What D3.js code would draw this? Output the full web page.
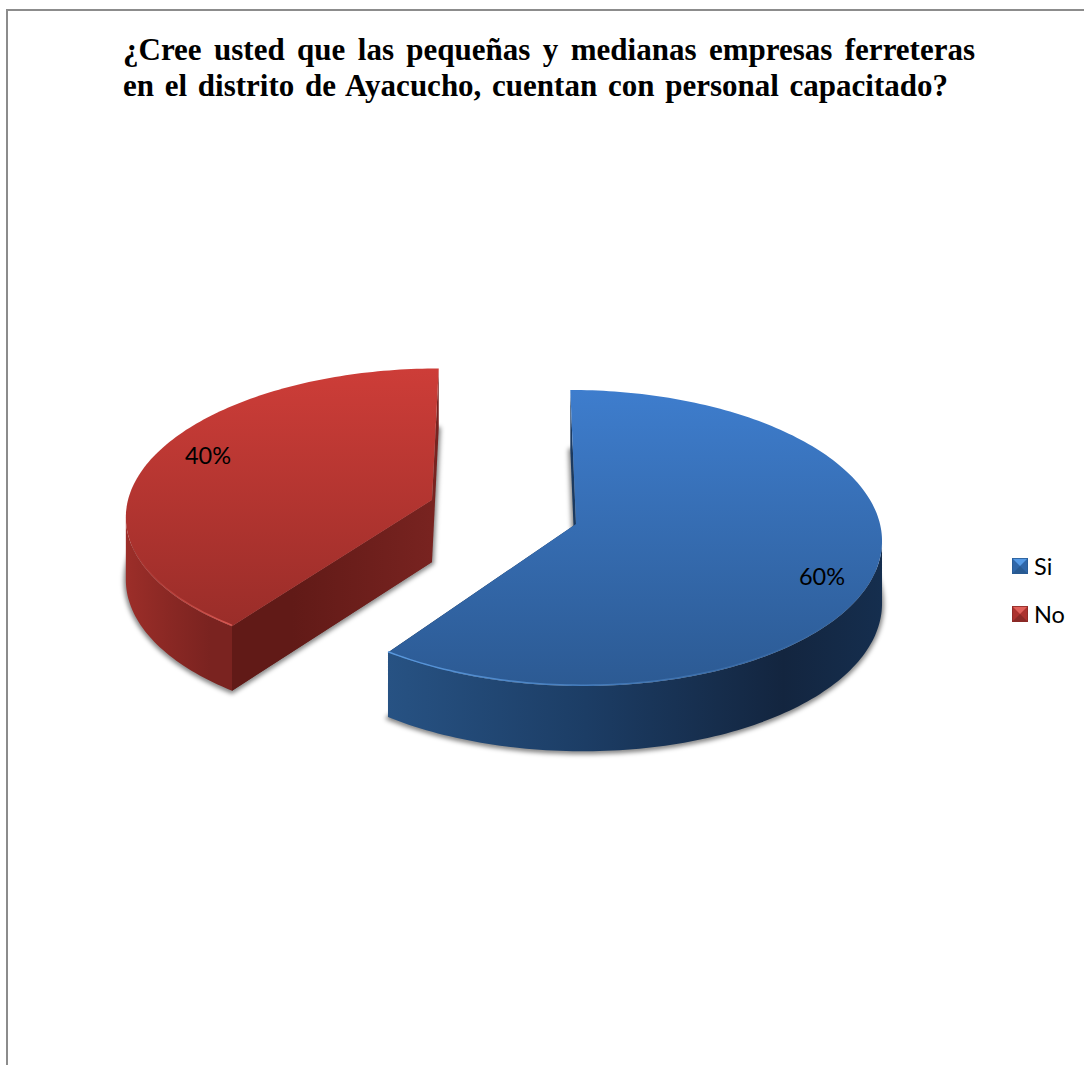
<!DOCTYPE html>
<html lang="es">
<head>
<meta charset="utf-8">
<title>Personal capacitado</title>
<script src="https://cdn.jsdelivr.net/npm/d3@7/dist/d3.min.js"></script>
<style>
  html, body { margin: 0; padding: 0; background: #fff; }
  svg { display: block; }
  .title { font: bold 31px "Liberation Serif", "Times New Roman", serif; fill: #000; }
  .label { font: 23.5px Lato, "Open Sans", sans-serif; fill: #000; }
</style>
</head>
<body>
<svg id="chart" width="1084" height="1065" xmlns="http://www.w3.org/2000/svg"></svg>
<script>
// Survey answers
const categories = ["Si", "No"];
const percentages = [60, 40];
const titleLines = [
  "¿Cree usted que las pequeñas y medianas empresas ferreteras",
  "en el distrito de Ayacucho, cuentan con personal capacitado?"
];

// Pie geometry: a tilted disc seen in perspective, each slice pulled from its own apex
const vanishX = 510, radius = 304, perspective = 0.0946, depth = 62;
const tiltRadius = { Si: 146.7, No: 144 };
const apex = { Si: [576, 524], No: [432, 500] };
const labelAt = { Si: [822, 576], No: [208, 455] };
const palette = {
  Si: { top: ["#3e7dcd", "#2c5a93"], wall: ["#275283", "#1c3d65", "#13253f", "#152e4e"],
        cut: ["#142c49", "#1b3a60"], rim: "#5c9be0", chip: ["#559ae6", "#2f66a8", "#285a92"] },
  No: { top: ["#cd3d38", "#9a2d29"], wall: ["#9c2e29", "#8a2824", "#7a2320", "#7a2320"],
        cut: ["#611a17", "#782320"], rim: "#dc5a54", chip: ["#e0605a", "#ac322e", "#8a2926"] }
};

const svg = d3.select("#chart");
const defs = svg.append("defs");

// Maps a point of the unit disc (u right, v away from the viewer) and a height drop to the page
function project(name, u, v, drop) {
  const [ax, ay] = apex[name];
  const f = 1 / (1 + perspective * v);
  return [
    vanishX + (ax - vanishX + radius * u) * f,
    ay - tiltRadius[name] * v * f + drop * (1 + 0.5 * (f - 1))
  ];
}

const rimPoint = (name, a, drop) => project(name, Math.sin(a), Math.cos(a), drop);

function arcPoints(name, a0, a1, drop) {
  const n = Math.max(2, Math.ceil(Math.abs(a1 - a0) / 0.02));
  return d3.range(n + 1).map(i => rimPoint(name, a0 + (a1 - a0) * i / n, drop));
}

const line = d3.line();
const closed = pts => line(pts) + "Z";

const pie = d3.pie().sort(null).startAngle(0).endAngle(2 * Math.PI);
const slices = pie(percentages).map((d, i) => ({ ...d, name: categories[i] }));

// Gradients
function linear(id, x1, y1, x2, y2, stops) {
  const g = defs.append("linearGradient").attr("id", id)
    .attr("gradientUnits", "userSpaceOnUse")
    .attr("x1", x1).attr("y1", y1).attr("x2", x2).attr("y2", y2);
  stops.forEach(([o, c, a]) => {
    const s = g.append("stop").attr("offset", o).attr("stop-color", c);
    if (a !== undefined) s.attr("stop-opacity", a);
  });
}

defs.append("filter").attr("id", "soft")
  .attr("x", "-10%").attr("y", "-10%").attr("width", "120%").attr("height", "120%")
  .append("feGaussianBlur").attr("stdDeviation", 2);

const plot = svg.append("g");

slices.forEach(s => {
  const { name, startAngle: a0, endAngle: a1 } = s;
  const c = palette[name];
  const rim = arcPoints(name, a0, a1, 0);
  const rimLow = arcPoints(name, a0, a1, depth);
  const xs = rim.map(p => p[0]), ys = rim.map(p => p[1]);
  const centre = project(name, 0, 0, 0);
  const centreLow = project(name, 0, 0, depth);
  const tip = rimPoint(name, a1 === 2 * Math.PI ? a0 : a1, 0);
  const tipLow = rimPoint(name, a1 === 2 * Math.PI ? a0 : a1, depth);

  linear(`top-${name}`, 0, d3.min(ys), 0, d3.max(ys), [[0, c.top[0]], [1, c.top[1]]]);
  const wx0 = d3.min(xs), wx1 = d3.max(xs);
  linear(`wall-${name}`, wx0, 0, name === "Si" ? wx1 : tip[0], 0,
    [[0, c.wall[0]], [0.4, c.wall[1]], [0.8, c.wall[2]], [1, c.wall[3]]]);
  linear(`cut-${name}`, tip[0], 0, centre[0], 0, [[0, c.cut[0]], [0.3, c.cut[0]], [1, c.cut[1]]]);

  // Soft contact shadow thrown by the base of the slice
  plot.append("path")
    .attr("d", closed([centreLow, ...rimLow]))
    .attr("transform", "translate(0,1)")
    .attr("fill", "#000").attr("fill-opacity", 0.34)
    .attr("stroke", "#000").attr("stroke-opacity", 0.34)
    .attr("stroke-width", 5).attr("stroke-linejoin", "round")
    .attr("filter", "url(#soft)");

  // Flat faces left by the cut
  [a0, a1].forEach(a => {
    plot.append("path")
      .attr("d", closed([centre, rimPoint(name, a, 0), rimPoint(name, a, depth), centreLow]))
      .attr("fill", `url(#cut-${name})`);
  });

  // Curved outer wall, only the stretch between the silhouette edge and the front tip
  const edge = name === "Si" ? d3.maxIndex(xs, x => x) : d3.minIndex(xs, x => x);
  const visible = name === "Si"
    ? [rim.slice(edge), rimLow.slice(edge)]
    : [rim.slice(0, edge + 1), rimLow.slice(0, edge + 1)];
  plot.append("path")
    .attr("d", closed([...visible[0], ...visible[1].slice().reverse()]))
    .attr("fill", `url(#wall-${name})`);

  // The cut that faces the viewer sits in front of the wall on the red slice
  if (name === "No") {
    plot.append("path")
      .attr("d", closed([centre, tip, tipLow, centreLow]))
      .attr("fill", `url(#cut-${name})`);
  }

  // Top face
  plot.append("path")
    .attr("d", closed([centre, ...rim]))
    .attr("fill", `url(#top-${name})`);

  // Bevel highlight along the front of the rim, fading away from the tip
  const front = name === "Si"
    ? arcPoints(name, a1, a1 - 1.6, -0.8)
    : arcPoints(name, a0, a0 + 1.0, -0.8);
  const fx = front.map(p => p[0]);
  linear(`rim-${name}`, fx[0], 0, fx[fx.length - 1] + 0.01, 0, [[0, c.rim, 0.95], [1, c.rim, 0]]);
  plot.append("path")
    .attr("d", line(front))
    .attr("fill", "none")
    .attr("stroke", `url(#rim-${name})`)
    .attr("stroke-width", 1.5);
});

// Value labels
const asPercent = d3.format(".0%");
slices.forEach(s => {
  plot.append("text").attr("class", "label")
    .attr("x", labelAt[s.name][0]).attr("y", labelAt[s.name][1])
    .attr("text-anchor", "middle").attr("dominant-baseline", "central")
    .text(asPercent(s.value / d3.sum(percentages)));
});

// Legend: small bevelled chips, lit from above
const legendY = d3.scalePoint().domain(categories).range([566, 614]);
const chip = 16, half = chip / 2;
categories.forEach(name => {
  const g = svg.append("g").attr("transform", `translate(1020,${legendY(name)})`);
  const [hi, mid, lo] = palette[name].chip;
  g.append("rect").attr("x", -half).attr("y", -half)
    .attr("width", chip).attr("height", chip).attr("fill", mid);
  g.append("path").attr("d", closed([[-half, half], [half, half], [0, 0]])).attr("fill", lo);
  g.append("path").attr("d", closed([[-half, -half], [half, -half], [0, 0]])).attr("fill", hi);
  g.append("rect").attr("x", -half + 0.5).attr("y", -half + 0.5)
    .attr("width", chip - 1).attr("height", chip - 1)
    .attr("fill", "none").attr("stroke", lo).attr("stroke-opacity", 0.8);
  g.append("text").attr("class", "label")
    .attr("x", 14).attr("y", 0).attr("dominant-baseline", "central")
    .text(name);
});

// Title, spread to the block width by adjusting the gaps between words
const titleRight = [975, 948];
titleLines.forEach((t, i) => {
  const el = svg.append("text").attr("class", "title")
    .attr("x", 123).attr("y", 60 + i * 36).text(t);
  const gaps = t.split(" ").length - 1;
  const extra = (titleRight[i] - 123 - el.node().getComputedTextLength()) / gaps;
  el.style("word-spacing", `${extra}px`);
});

// Frame: only the top and left edges fall inside the page
svg.append("path").attr("d", "M7,1065V10H1084")
  .attr("fill", "none").attr("stroke", "#8c8c8c").attr("stroke-width", 2);
</script>
</body>
</html>
